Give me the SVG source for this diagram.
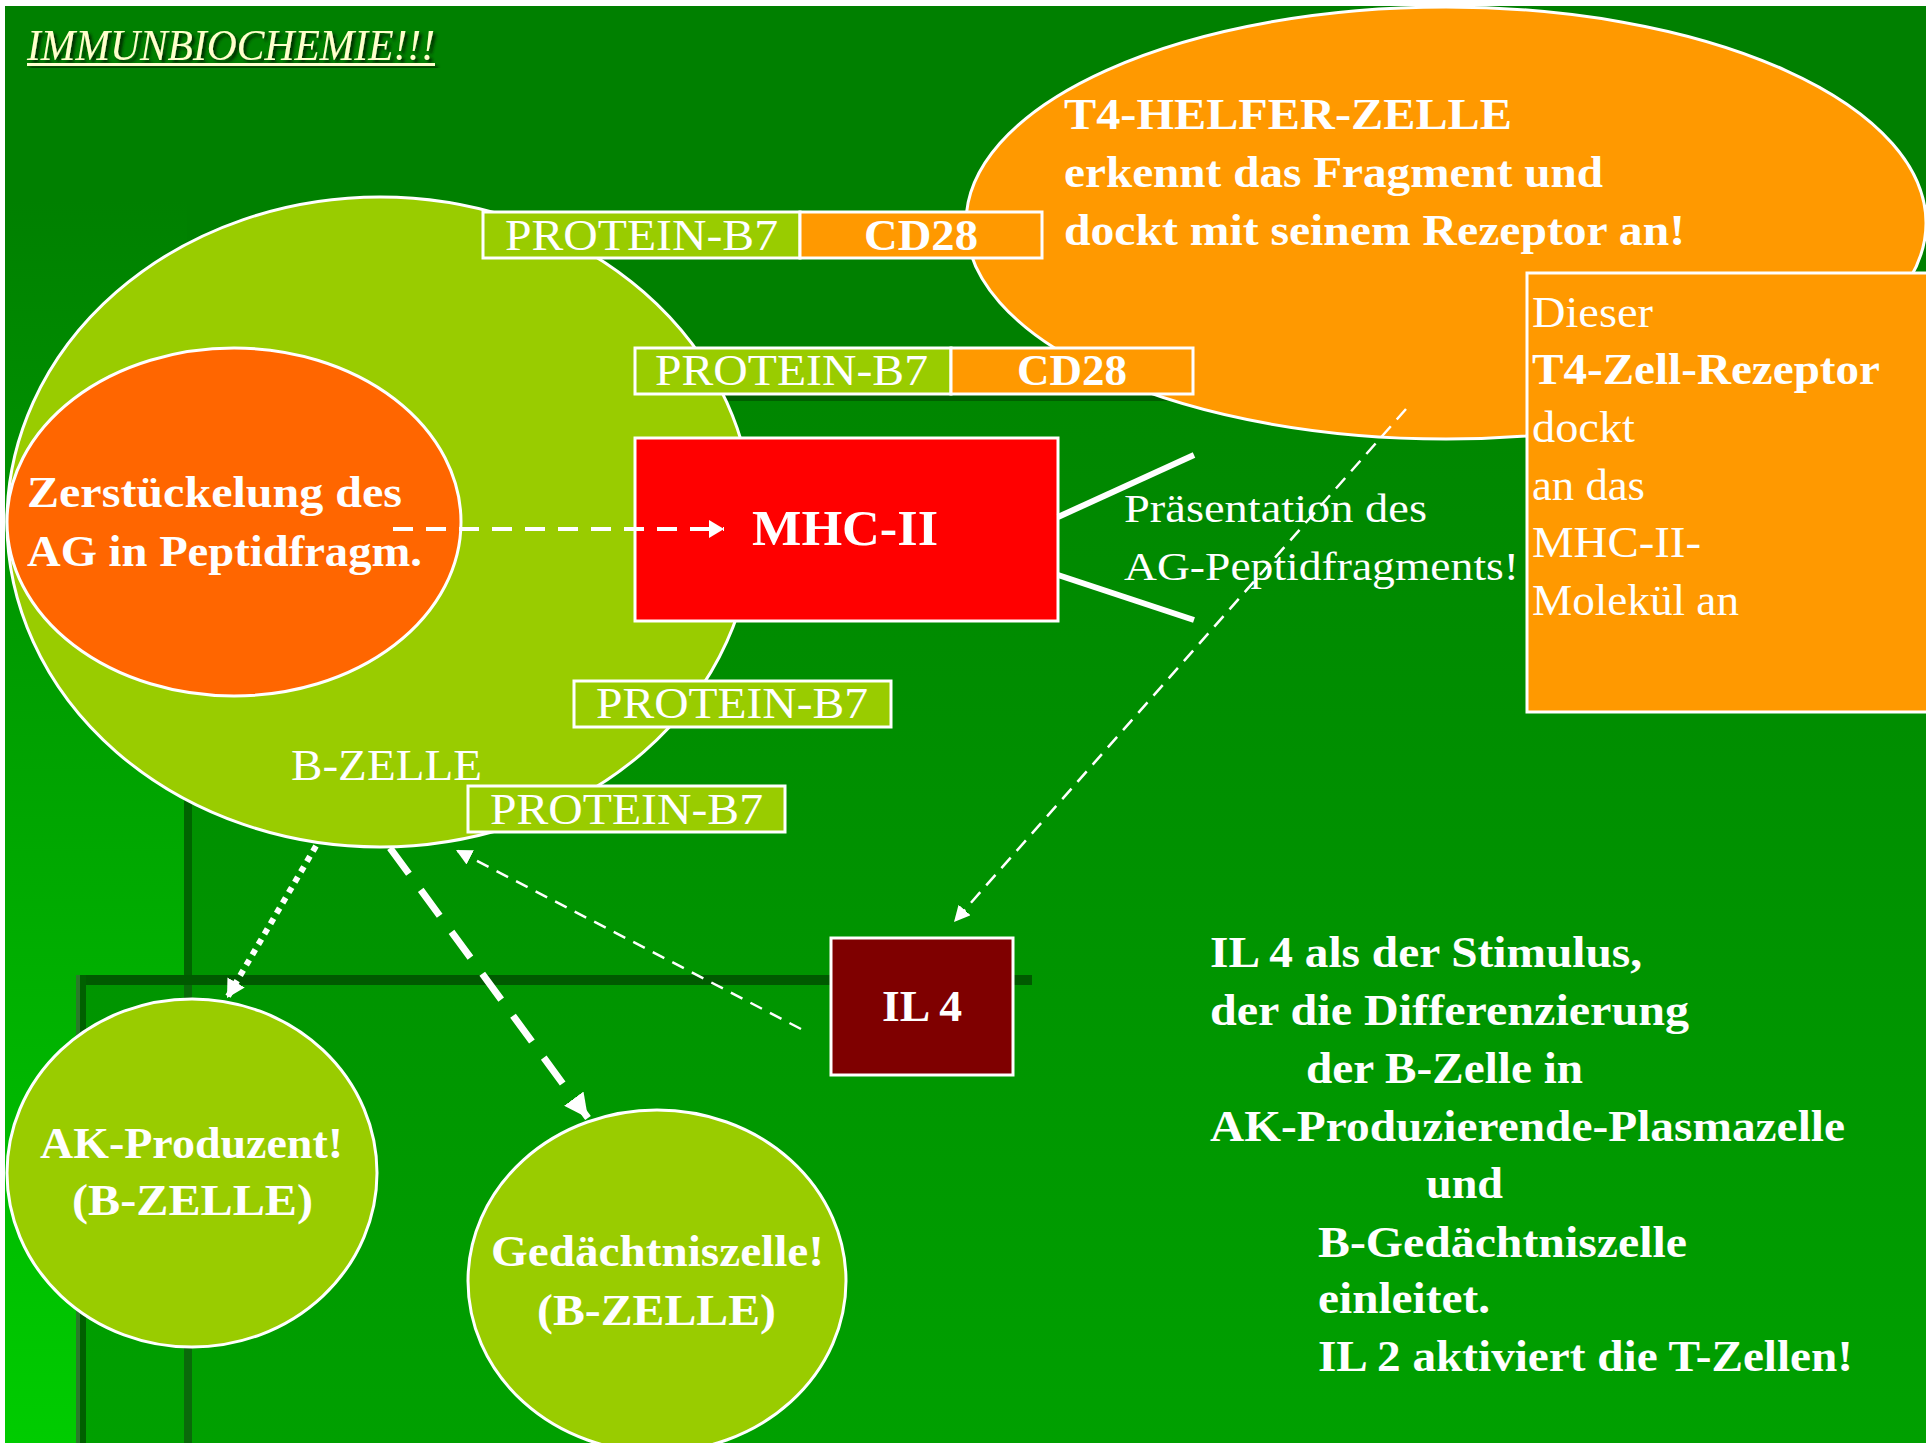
<svg xmlns="http://www.w3.org/2000/svg" width="1926" height="1443" viewBox="0 0 1926 1443">
<style>
  text { font-family: "Liberation Serif", "Times New Roman", serif; fill: #ffffff; font-size: 44px; }
  .b { font-weight: bold; }
  .shape { stroke: #ffffff; stroke-width: 3; }
  .green { fill: #99cc00; }
  .orange { fill: #ff9900; }
  .conn { fill: none; stroke: #ffffff; }
</style>
<defs>
  <linearGradient id="leftGrad" gradientUnits="userSpaceOnUse" x1="0" y1="200" x2="0" y2="1443">
    <stop offset="0" stop-color="#008000"/>
    <stop offset="1" stop-color="#00cc00"/>
  </linearGradient>
  <linearGradient id="panelGrad" gradientUnits="userSpaceOnUse" x1="0" y1="400" x2="0" y2="1443">
    <stop offset="0" stop-color="#008600"/>
    <stop offset="1" stop-color="#00a000"/>
  </linearGradient>
  <filter id="shadow" x="-5%" y="-30%" width="115%" height="170%">
    <feDropShadow dx="3" dy="3" stdDeviation="1.5" flood-color="#002000" flood-opacity="0.85"/>
  </filter>
  <marker id="ahS" markerUnits="userSpaceOnUse" markerWidth="18" markerHeight="16" refX="16" refY="8" orient="auto">
    <path d="M0,0 L16,8 L0,16 z" fill="#ffffff"/>
  </marker>
  <marker id="ahM" markerUnits="userSpaceOnUse" markerWidth="18" markerHeight="18" refX="15" refY="9" orient="auto">
    <path d="M0,0 L15,9 L0,18 z" fill="#ffffff"/>
  </marker>
  <marker id="ahL" markerUnits="userSpaceOnUse" markerWidth="26" markerHeight="24" refX="24" refY="12" orient="auto">
    <path d="M0,0 L24,12 L0,24 z" fill="#ffffff"/>
  </marker>
  <marker id="ahD" markerUnits="userSpaceOnUse" markerWidth="20" markerHeight="20" refX="18" refY="10" orient="auto">
    <path d="M0,0 L18,10 L0,20 z" fill="#ffffff"/>
  </marker>
</defs>

<g id="background">
  <rect x="0" y="0" width="1926" height="1443" fill="#ffffff"/>
  <rect x="5" y="6" width="1921" height="1437" fill="#008000"/>
  <rect x="5" y="6" width="182" height="1437" fill="url(#leftGrad)"/>
  <rect x="188" y="398" width="1738" height="1045" fill="url(#panelGrad)"/>
  <rect x="186" y="394" width="1740" height="7" fill="#005f00"/>
  <rect x="80" y="980" width="1846" height="463" fill="url(#panelGrad)"/>
  <rect x="76" y="975" width="956" height="10" fill="#005a00"/>
  <rect x="76" y="975" width="10" height="468" fill="#006000"/>
  <rect x="76" y="975" width="4" height="468" fill="#2a7a2a"/>
  <rect x="184" y="394" width="8" height="581" fill="#006400"/>
  <rect x="184" y="985" width="8" height="458" fill="#0a6a0a"/>
</g>

<g id="title">
  <text x="27" y="60" font-style="italic" textLength="408" lengthAdjust="spacingAndGlyphs" style="fill:#ffffcc" filter="url(#shadow)">IMMUNBIOCHEMIE!!!</text>
  <rect x="27" y="63" width="408" height="3" fill="#ffffcc" filter="url(#shadow)"/>
</g>

<g id="b-zelle">
  <ellipse class="shape green" cx="380" cy="522" rx="373" ry="325"/>
  <text x="291" y="780" textLength="191" lengthAdjust="spacingAndGlyphs">B-ZELLE</text>
</g>

<g id="t4-helfer-zelle">
  <ellipse class="shape orange" cx="1446" cy="223" rx="480" ry="216"/>
  <text class="b" x="1064" y="129" textLength="448" lengthAdjust="spacingAndGlyphs">T4-HELFER-ZELLE</text>
  <text class="b" x="1064" y="187" textLength="539" lengthAdjust="spacingAndGlyphs">erkennt das Fragment und</text>
  <text class="b" x="1064" y="245" textLength="621" lengthAdjust="spacingAndGlyphs">dockt mit seinem Rezeptor an!</text>
</g>

<g id="protein-b7-1">
  <rect class="shape green" x="483" y="212" width="317" height="46"/>
  <text x="505" y="250" textLength="273" lengthAdjust="spacingAndGlyphs">PROTEIN-B7</text>
</g>
<g id="cd28-1">
  <rect class="shape orange" x="800" y="212" width="242" height="46"/>
  <text class="b" x="864" y="250" textLength="114" lengthAdjust="spacingAndGlyphs">CD28</text>
</g>
<g id="protein-b7-2">
  <rect class="shape green" x="635" y="348" width="316" height="46"/>
  <text x="655" y="385" textLength="273" lengthAdjust="spacingAndGlyphs">PROTEIN-B7</text>
</g>
<g id="cd28-2">
  <rect class="shape orange" x="951" y="348" width="242" height="46"/>
  <text class="b" x="1017" y="385" textLength="110" lengthAdjust="spacingAndGlyphs">CD28</text>
</g>

<g id="zerstueckelung">
  <ellipse class="shape" cx="234" cy="522" rx="227" ry="174" fill="#ff6600"/>
  <text class="b" x="27" y="507" textLength="375" lengthAdjust="spacingAndGlyphs">Zerstückelung des</text>
  <text class="b" x="27" y="566" textLength="395" lengthAdjust="spacingAndGlyphs">AG in Peptidfragm.</text>
</g>

<g id="mhc-ii">
  <rect class="shape" x="635" y="438" width="423" height="183" fill="#ff0000"/>
  <text class="b" x="752" y="545" font-size="50" style="font-size:50px" textLength="186" lengthAdjust="spacingAndGlyphs">MHC-II</text>
</g>

<g id="protein-b7-3">
  <rect class="shape green" x="574" y="681" width="317" height="46"/>
  <text x="596" y="718" textLength="272" lengthAdjust="spacingAndGlyphs">PROTEIN-B7</text>
</g>
<g id="protein-b7-4">
  <rect class="shape green" x="468" y="786" width="317" height="46"/>
  <text x="490" y="824" textLength="273" lengthAdjust="spacingAndGlyphs">PROTEIN-B7</text>
</g>

<g id="t4-rezeptor">
  <rect class="shape orange" x="1527" y="273" width="410" height="439"/>
  <text x="1532" y="327" textLength="121" lengthAdjust="spacingAndGlyphs">Dieser</text>
  <text class="b" x="1532" y="384" textLength="348" lengthAdjust="spacingAndGlyphs">T4-Zell-Rezeptor</text>
  <text x="1532" y="442" textLength="103" lengthAdjust="spacingAndGlyphs">dockt</text>
  <text x="1532" y="500" textLength="113" lengthAdjust="spacingAndGlyphs">an das</text>
  <text x="1532" y="557" textLength="169" lengthAdjust="spacingAndGlyphs">MHC-II-</text>
  <text x="1532" y="615" textLength="207" lengthAdjust="spacingAndGlyphs">Molekül an</text>
</g>

<g id="praesentation">
  <text x="1124" y="522" style="font-size:40px" textLength="303" lengthAdjust="spacingAndGlyphs">Präsentation des</text>
  <text x="1124" y="580" style="font-size:40px" textLength="395" lengthAdjust="spacingAndGlyphs">AG-Peptidfragments!</text>
</g>

<g id="il4">
  <rect class="shape" x="831" y="938" width="182" height="137" fill="#7f0000"/>
  <text class="b" x="882" y="1021" textLength="80" lengthAdjust="spacingAndGlyphs">IL 4</text>
</g>

<g id="ak-produzent">
  <ellipse class="shape green" cx="192" cy="1173" rx="185" ry="174"/>
  <text class="b" x="40" y="1158" textLength="303" lengthAdjust="spacingAndGlyphs">AK-Produzent!</text>
  <text class="b" x="72" y="1215" textLength="241" lengthAdjust="spacingAndGlyphs">(B-ZELLE)</text>
</g>

<g id="gedaechtniszelle">
  <ellipse class="shape green" cx="657" cy="1281" rx="189" ry="171"/>
  <text class="b" x="491" y="1266" textLength="333" lengthAdjust="spacingAndGlyphs">Gedächtniszelle!</text>
  <text class="b" x="537" y="1325" textLength="239" lengthAdjust="spacingAndGlyphs">(B-ZELLE)</text>
</g>

<g id="il4-text">
  <text class="b" x="1210" y="967" textLength="432" lengthAdjust="spacingAndGlyphs">IL 4 als der Stimulus,</text>
  <text class="b" x="1210" y="1025" textLength="479" lengthAdjust="spacingAndGlyphs">der die Differenzierung</text>
  <text class="b" x="1306" y="1083" textLength="277" lengthAdjust="spacingAndGlyphs">der B-Zelle in</text>
  <text class="b" x="1210" y="1141" textLength="635" lengthAdjust="spacingAndGlyphs">AK-Produzierende-Plasmazelle</text>
  <text class="b" x="1426" y="1198" textLength="77" lengthAdjust="spacingAndGlyphs">und</text>
  <text class="b" x="1318" y="1257" textLength="369" lengthAdjust="spacingAndGlyphs">B-Gedächtniszelle</text>
  <text class="b" x="1318" y="1313" textLength="172" lengthAdjust="spacingAndGlyphs">einleitet.</text>
  <text class="b" x="1318" y="1371" textLength="535" lengthAdjust="spacingAndGlyphs">IL 2 aktiviert die T-Zellen!</text>
</g>

<g id="connectors">
  <path class="conn" d="M393,529 L724,529" stroke-width="4" stroke-dasharray="20 13" marker-end="url(#ahM)"/>
  <path class="conn" d="M1058,517 L1194,455" stroke-width="6"/>
  <path class="conn" d="M1058,575 L1194,620" stroke-width="6"/>
  <path class="conn" d="M1406,409 L954,922" stroke-width="2.5" stroke-dasharray="14 9" marker-end="url(#ahS)"/>
  <path class="conn" d="M801,1029 L456,850" stroke-width="2.5" stroke-dasharray="13 9" marker-end="url(#ahS)"/>
  <path class="conn" d="M390,848 L588,1118" stroke-width="7" stroke-dasharray="32 20" marker-end="url(#ahL)"/>
  <path class="conn" d="M316,846 L227,998" stroke-width="6" stroke-dasharray="6 6" marker-end="url(#ahD)"/>
</g>
</svg>
